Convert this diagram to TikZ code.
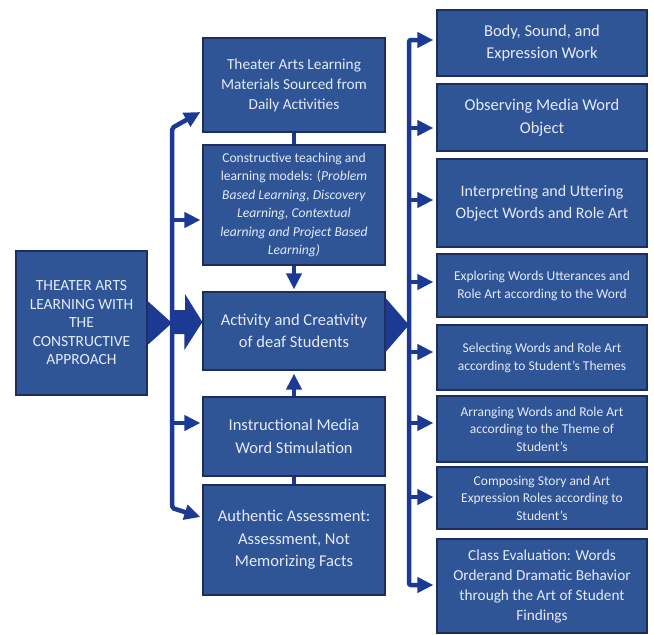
\documentclass[tikz,border=0pt]{standalone}
\usepackage{fontspec}
\setmainfont{Carlito}
\usetikzlibrary{arrows.meta}
\definecolor{boxblue}{RGB}{47,85,151}
\definecolor{boxline}{RGB}{30,45,90}
\definecolor{arrowblue}{RGB}{28,58,148}
\definecolor{boxtext}{RGB}{228,234,246}
\begin{document}
\begin{tikzpicture}[x=1pt, y=-1pt,
  box/.style={draw=boxline, line width=1.2pt, fill=boxblue, text=boxtext, align=center, inner sep=0pt},
  big/.style={font=\fontsize{16.5}{22.5}\selectfont},
  mid/.style={font=\fontsize{15.3}{20}\selectfont},
  small/.style={font=\fontsize{13.5}{18}\selectfont},
  link/.style={draw=arrowblue, line width=4.5pt, rounded corners=2pt},
  arr/.style={link, -{Triangle[length=16pt,width=15pt]}},
  spine/.style={link, {Triangle[length=16pt,width=15pt]}-{Triangle[length=16pt,width=15pt]}}]
\fill[white] (0,0) rectangle (654,635);
\useasboundingbox (0,0) rectangle (654,635);

\node[box, minimum width=131pt, minimum height=144pt, font=\fontsize{15.5}{18.5}\selectfont] (L) at (81.5,323)
  {THEATER ARTS\\LEARNING WITH\\THE\\CONSTRUCTIVE\\APPROACH};

\node[box, mid, minimum width=182pt, minimum height=94pt] (M1) at (294,85)
  {Theater Arts Learning\\Materials Sourced from\\Daily Activities};
\node[box, minimum width=182pt, minimum height=120pt, font=\fontsize{13.6}{18.5}\selectfont] (M2) at (294,205)
  {Constructive teaching and\\learning models: (\textit{Problem}\\\textit{Based Learning, Discovery}\\\textit{Learning, Contextual}\\\textit{learning and Project Based}\\\textit{Learning)}};
\node[box, big, minimum width=182pt, minimum height=78pt] (M3) at (294,331)
  {Activity and Creativity\\of deaf Students};
\node[box, big, minimum width=182pt, minimum height=79pt] (M4) at (294,436.5)
  {Instructional Media\\Word Stimulation};
\node[box, big, minimum width=182pt, minimum height=110pt] (M5) at (294,540)
  {Authentic Assessment:\\Assessment, Not\\Memorizing Facts};

\node[box, big, minimum width=210pt, minimum height=66pt] (R1) at (542,43)
  {Body, Sound, and\\Expression Work};
\node[box, big, minimum width=210pt, minimum height=67pt] (R2) at (542,117.5)
  {Observing Media Word\\Object};
\node[box, minimum width=210pt, minimum height=88pt, font=\fontsize{16}{22}\selectfont] (R3) at (542,203)
  {Interpreting and Uttering\\Object Words and Role Art};
\node[box, small, minimum width=210pt, minimum height=63pt] (R4) at (542,285.5)
  {Exploring Words Utterances and\\Role Art according to the Word};
\node[box, small, minimum width=210pt, minimum height=65pt] (R5) at (542,357.5)
  {Selecting Words and Role Art\\according to Student’s Themes};
\node[box, minimum width=210pt, minimum height=66pt, font=\fontsize{13.5}{17.5}\selectfont] (R6) at (542,429)
  {Arranging Words and Role Art\\according to the Theme of\\Student’s};
\node[box, minimum width=210pt, minimum height=62pt, font=\fontsize{13.5}{17.5}\selectfont] (R7) at (542,498)
  {Composing Story and Art\\Expression Roles according to\\Student’s};
\node[box, mid, minimum width=210pt, minimum height=94pt] (R8) at (542,586)
  {Class Evaluation: Words\\Orderand Dramatic Behavior\\through the Art of Student\\Findings};

% left spine
\coordinate (ltop) at (172,128);
\coordinate (lbot) at (172,508);
\coordinate (acttip) at ([yshift=9pt]M3.west);
\fill[arrowblue] ([yshift=22pt]L.east) -- (ltop |- L.east) -- ([yshift=-22pt]L.east) -- cycle;
\draw[spine] ([xshift=-2pt,yshift=23pt]M5.west) -- (lbot) -- (ltop) -- ([xshift=-2pt,yshift=-27pt]M1.west);
\draw[arr] ([yshift=-15pt]ltop |- M2.west) -- ([xshift=-2pt,yshift=-15pt]M2.west);
\draw[arr] ([yshift=13.5pt]ltop |- M4.west) -- ([xshift=-2pt,yshift=13.5pt]M4.west);
\fill[arrowblue] (ltop |- acttip) ++(0,-12) -- ++(13,0) -- ++(0,-16) -- (acttip)
  -- ++(-18,28) -- ++(0,-16) -- ++(-13,0) -- cycle;

% middle column
\draw[link] (M1.south) -- (M2.north);
\draw[arr] (M2.south) -- ([yshift=2pt]M3.north);
\draw[arr] (M4.north) -- ([yshift=-3pt]M3.south);
\draw[link] (M4.south) -- (M5.north);

% right spine
\coordinate (rtop) at (409,40);
\coordinate (rbot) at (409,585);
\fill[arrowblue] ([yshift=33pt]M3.east) -- ([yshift=6pt]rtop |- M3.east) -- ([yshift=-21pt]M3.east) -- cycle;
\draw[spine] ([xshift=-3pt,yshift=3pt]R1.west) -- (rtop) -- (rbot) -- ([xshift=-3pt,yshift=1pt]R8.west);
\foreach \n/\s in {R2/-10.5pt, R3/3pt, R4/3.5pt, R5/5.5pt, R6/6pt, R7/1pt}
  \draw[arr] ([yshift=\s]rtop |- \n.west) -- ([xshift=-3pt,yshift=\s]\n.west);
\end{tikzpicture}
\end{document}
